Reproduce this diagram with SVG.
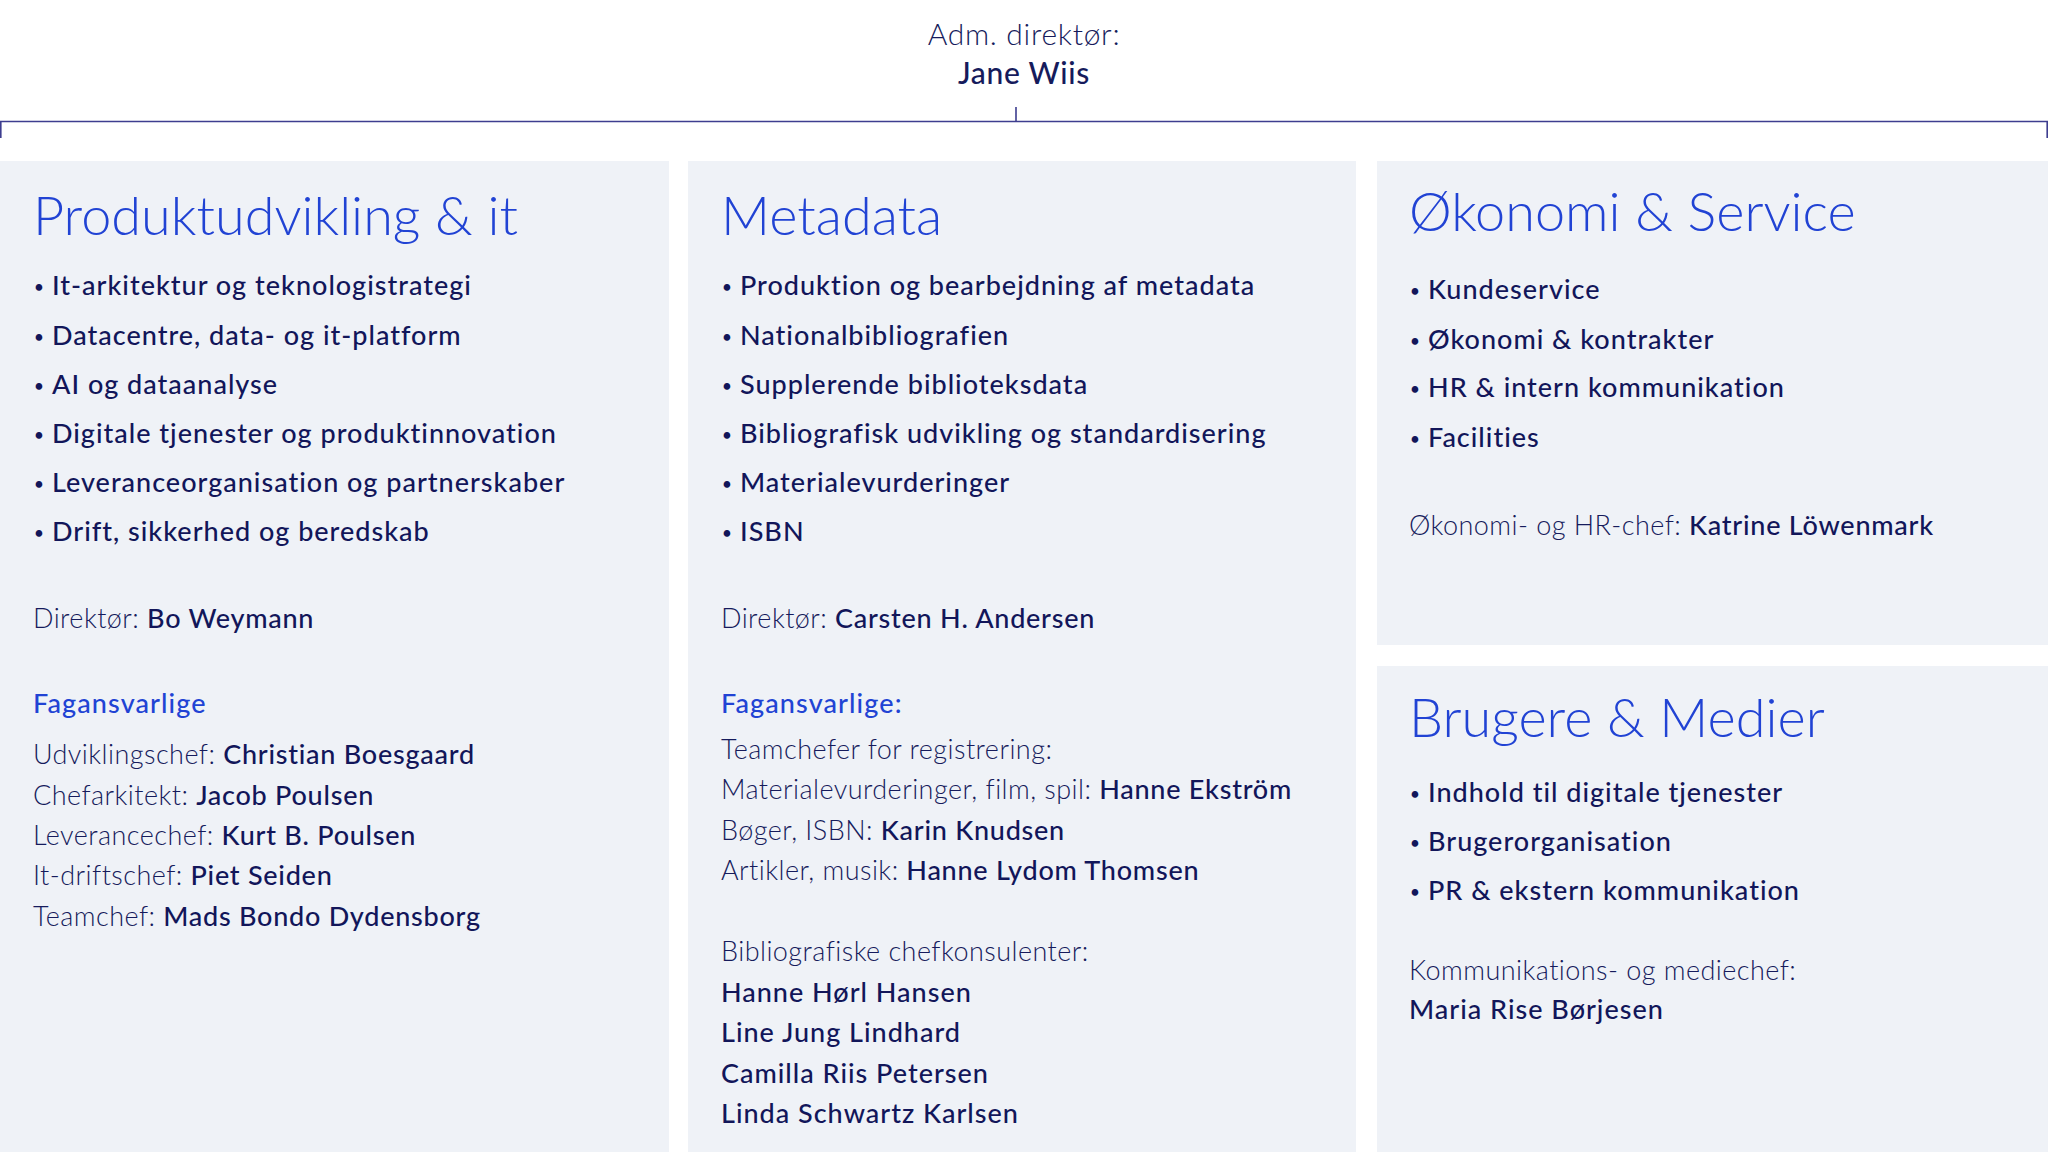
<svg xmlns="http://www.w3.org/2000/svg" width="2048" height="1152" viewBox="0 0 2048 1152">
<style>
text{font-family:Lato,"Open Sans","Liberation Sans",sans-serif}
.box{fill:#eff2f7}
.title{font-size:54px;font-weight:300;fill:#2143d4}
.item{font-size:27px;font-weight:500;fill:#12165a;letter-spacing:1px}
.b{font-size:17px;letter-spacing:0}
.lbl{font-size:27px;font-weight:300;fill:#161b5c;letter-spacing:0.45px}
.name{font-weight:500;fill:#12165a;letter-spacing:0.75px}
.sub{font-size:27px;font-weight:500;fill:#2143d4;letter-spacing:1.1px}
.top{font-size:30px;text-anchor:middle;fill:#161b5c;letter-spacing:0.7px}
.conn{stroke:#3d3d8f;stroke-width:1.6;fill:none}
</style>
<rect width="2048" height="1152" fill="#ffffff"/>
<g id="ceo">
<text class="top" x="1024" y="45" font-weight="300">Adm. direktør:</text>
<text class="top" x="1024" y="84" font-weight="500" fill="#12165a" letter-spacing="0.2">Jane Wiis</text>
</g>
<g id="connectors">
<path class="conn" d="M1016 107V121.5"/>
<path class="conn" d="M0.8 138V121.5H2047.2V138"/>
</g>
<g id="produktudvikling">
<rect class="box" x="0" y="161" width="669" height="991"/>
<text class="title" x="33" y="235">Produktudvikling &amp; it</text>
<text class="item"><tspan class="b" x="34" y="293">•</tspan><tspan x="52" y="295">It-arkitektur og teknologistrategi</tspan></text>
<text class="item"><tspan class="b" x="34" y="343">•</tspan><tspan x="52" y="345">Datacentre, data- og it-platform</tspan></text>
<text class="item"><tspan class="b" x="34" y="392">•</tspan><tspan x="52" y="394">AI og dataanalyse</tspan></text>
<text class="item"><tspan class="b" x="34" y="441">•</tspan><tspan x="52" y="443">Digitale tjenester og produktinnovation</tspan></text>
<text class="item"><tspan class="b" x="34" y="490">•</tspan><tspan x="52" y="492">Leveranceorganisation og partnerskaber</tspan></text>
<text class="item"><tspan class="b" x="34" y="539">•</tspan><tspan x="52" y="541">Drift, sikkerhed og beredskab</tspan></text>
<text class="lbl" x="33" y="628">Direktør: <tspan class="name">Bo Weymann</tspan></text>
<text class="sub" x="33" y="713">Fagansvarlige</text>
<text class="lbl" x="33" y="764">Udviklingschef: <tspan class="name">Christian Boesgaard</tspan></text>
<text class="lbl" x="33" y="805">Chefarkitekt: <tspan class="name">Jacob Poulsen</tspan></text>
<text class="lbl" x="33" y="845">Leverancechef: <tspan class="name">Kurt B. Poulsen</tspan></text>
<text class="lbl" x="33" y="885">It-driftschef: <tspan class="name">Piet Seiden</tspan></text>
<text class="lbl" x="33" y="926">Teamchef: <tspan class="name">Mads Bondo Dydensborg</tspan></text>
</g>
<g id="metadata">
<rect class="box" x="688" y="161" width="668" height="991"/>
<text class="title" x="721" y="235">Metadata</text>
<text class="item"><tspan class="b" x="722" y="293">•</tspan><tspan x="740" y="295">Produktion og bearbejdning af metadata</tspan></text>
<text class="item"><tspan class="b" x="722" y="343">•</tspan><tspan x="740" y="345">Nationalbibliografien</tspan></text>
<text class="item"><tspan class="b" x="722" y="392">•</tspan><tspan x="740" y="394">Supplerende biblioteksdata</tspan></text>
<text class="item"><tspan class="b" x="722" y="441">•</tspan><tspan x="740" y="443">Bibliografisk udvikling og standardisering</tspan></text>
<text class="item"><tspan class="b" x="722" y="490">•</tspan><tspan x="740" y="492">Materialevurderinger</tspan></text>
<text class="item"><tspan class="b" x="722" y="539">•</tspan><tspan x="740" y="541">ISBN</tspan></text>
<text class="lbl" x="721" y="628">Direktør: <tspan class="name">Carsten H. Andersen</tspan></text>
<text class="sub" x="721" y="713">Fagansvarlige:</text>
<text class="lbl" x="721" y="759">Teamchefer for registrering:</text>
<text class="lbl" x="721" y="799">Materialevurderinger, film, spil: <tspan class="name">Hanne Ekström</tspan></text>
<text class="lbl" x="721" y="840">Bøger, ISBN: <tspan class="name">Karin Knudsen</tspan></text>
<text class="lbl" x="721" y="880">Artikler, musik: <tspan class="name">Hanne Lydom Thomsen</tspan></text>
<text class="lbl" x="721" y="961">Bibliografiske chefkonsulenter:</text>
<text class="item" x="721" y="1002">Hanne Hørl Hansen</text>
<text class="item" x="721" y="1042">Line Jung Lindhard</text>
<text class="item" x="721" y="1083">Camilla Riis Petersen</text>
<text class="item" x="721" y="1123">Linda Schwartz Karlsen</text>
</g>
<g id="oekonomi">
<rect class="box" x="1377" y="161" width="671" height="484"/>
<text class="title" x="1409" y="231">Økonomi &amp; Service</text>
<text class="item"><tspan class="b" x="1410" y="297">•</tspan><tspan x="1428" y="299">Kundeservice</tspan></text>
<text class="item"><tspan class="b" x="1410" y="347">•</tspan><tspan x="1428" y="349">Økonomi &amp; kontrakter</tspan></text>
<text class="item"><tspan class="b" x="1410" y="395">•</tspan><tspan x="1428" y="397">HR &amp; intern kommunikation</tspan></text>
<text class="item"><tspan class="b" x="1410" y="445">•</tspan><tspan x="1428" y="447">Facilities</tspan></text>
<text class="lbl" x="1409" y="535">Økonomi- og HR-chef: <tspan class="name">Katrine Löwenmark</tspan></text>
</g>
<g id="brugere">
<rect class="box" x="1377" y="666" width="671" height="486"/>
<text class="title" x="1409" y="737">Brugere &amp; Medier</text>
<text class="item"><tspan class="b" x="1410" y="800">•</tspan><tspan x="1428" y="802">Indhold til digitale tjenester</tspan></text>
<text class="item"><tspan class="b" x="1410" y="849">•</tspan><tspan x="1428" y="851">Brugerorganisation</tspan></text>
<text class="item"><tspan class="b" x="1410" y="898">•</tspan><tspan x="1428" y="900">PR &amp; ekstern kommunikation</tspan></text>
<text class="lbl" x="1409" y="980">Kommunikations- og mediechef:</text>
<text class="item" x="1409" y="1019">Maria Rise Børjesen</text>
</g>
</svg>
